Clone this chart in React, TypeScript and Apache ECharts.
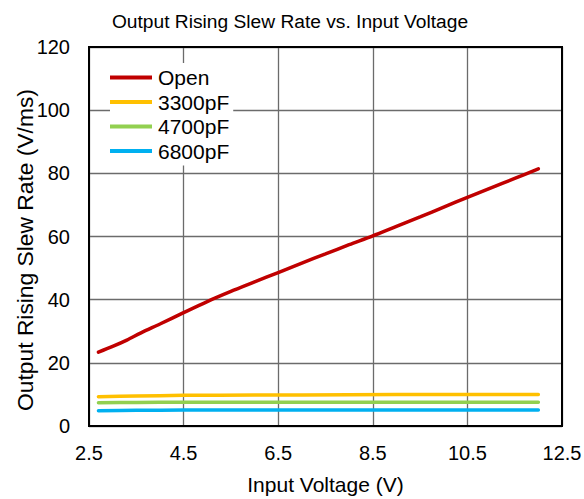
import React, { useEffect, useRef } from "react";
import * as echarts from "echarts";

const title = "Output Rising Slew Rate vs. Input Voltage";
const xName = "Input Voltage (V)";
const yName = "Output Rising Slew Rate (V/ms)";

const openX = [2.7, 3.0, 3.3, 3.6, 4.0, 4.5, 5.0, 5.5, 6.0, 6.5, 7.0, 7.5, 8.0, 8.5, 9.0, 9.5, 10.0, 10.5, 11.0, 11.5, 12.0];
const openY = [23.4, 25.2, 27.2, 29.5, 32.3, 35.9, 39.4, 42.6, 45.6, 48.6, 51.6, 54.5, 57.4, 60.2, 63.2, 66.2, 69.3, 72.4, 75.4, 78.4, 81.4];

const capX = [2.7, 3.5, 4.5, 6.0, 8.0, 10.0, 12.0];
const c3300Y = [9.3, 9.5, 9.7, 9.8, 9.9, 10.0, 10.0];
const c4700Y = [7.35, 7.45, 7.5, 7.5, 7.5, 7.5, 7.5];
const c6800Y = [4.85, 4.95, 5.05, 5.05, 5.05, 5.05, 5.05];

const seriesNames = ["Open", "3300pF", "4700pF", "6800pF"];
const seriesColors = ["#C00000", "#FFC000", "#92D050", "#00B0F0"];

const zip = (xs: number[], ys: number[]) => xs.map((x, i) => [x, ys[i]]);

export default function App() {
  const ref = useRef<HTMLDivElement>(null);
  useEffect(() => {
    if (!ref.current) return;
    const chart = echarts.init(ref.current, undefined, { renderer: "svg" });
    const font = "Liberation Sans, Arial, sans-serif";
    const datasets = [zip(openX, openY), zip(capX, c3300Y), zip(capX, c4700Y), zip(capX, c6800Y)];
    chart.setOption({
      animation: false,
      backgroundColor: "#fff",
      textStyle: { fontFamily: font },
      title: {
        text: title,
        left: 285,
        textAlign: "center",
        top: 7,
        textStyle: { fontFamily: font, fontSize: 19.2, fontWeight: "normal", color: "#000" },
      },
      legend: {
        orient: "vertical",
        left: 110,
        top: 63,
        padding: [4, 4, 4, 0],
        backgroundColor: "#fff",
        itemWidth: 42,
        itemHeight: 4,
        itemGap: 3.5,
        icon: "rect",
        textStyle: { fontFamily: font, fontSize: 21, color: "#000", lineHeight: 20, padding: [0, 0, 0, 1] },
        data: seriesNames,
      },
      grid: {
        left: 89,
        right: 22,
        top: 47,
        bottom: 73,
        show: true,
        borderColor: "#000",
        borderWidth: 2,
        z: 3,
        containLabel: false,
        outerBoundsMode: "none",
      },
      xAxis: {
        type: "value",
        min: 2.5,
        max: 12.5,
        interval: 2,
        name: xName,
        nameLocation: "middle",
        nameGap: 48,
        nameMoveOverlap: false,
        nameTextStyle: { fontFamily: font, fontSize: 21, color: "#000" },
        axisLine: { show: false },
        axisTick: { show: false },
        axisLabel: { fontFamily: font, fontSize: 20, color: "#000", margin: 17, formatter: (v: number) => v.toFixed(1) },
        splitLine: { show: true, lineStyle: { color: "#6b6b6b", width: 1.3 } },
      },
      yAxis: {
        type: "value",
        min: 0,
        max: 120,
        interval: 20,
        name: yName,
        nameLocation: "middle",
        nameGap: 53,
        nameMoveOverlap: false,
        nameTextStyle: { fontFamily: font, fontSize: 22.8, color: "#000", padding: [0, 27, 0, 0] },
        axisLine: { show: false },
        axisTick: { show: false },
        axisLabel: { fontFamily: font, fontSize: 20, color: "#000", margin: 19 },
        splitLine: { show: true, lineStyle: { color: "#6b6b6b", width: 1.3 } },
      },
      series: seriesNames.map((name, i) => ({
        name,
        type: "line",
        data: datasets[i],
        smooth: 0.3,
        showSymbol: false,
        symbol: "none",
        color: seriesColors[i],
        lineStyle: { width: 3.5, color: seriesColors[i], cap: "round" },
        z: 4,
      })),
    });
    return () => chart.dispose();
  }, []);
  return <div ref={ref} style={{ position: "fixed", left: 0, top: 0, width: 584, height: 499 }} />;
}
